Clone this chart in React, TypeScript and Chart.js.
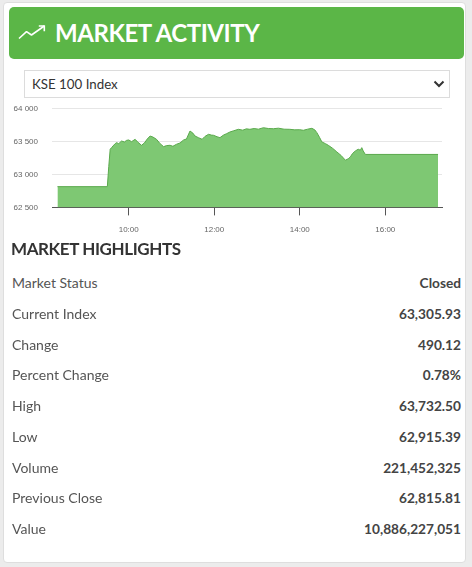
import React, { useEffect, useRef } from "react";
import Chart from "chart.js/auto";

// ---- data ----
const TIMES = [
  "08:20", "09:30", "09:32", "09:34", "09:36", "09:38", "09:41", "09:43", "09:46", "09:50",
  "09:54", "09:57", "10:00", "10:04", "10:09", "10:13", "10:18", "10:22", "10:26", "10:30",
  "10:34", "10:39", "10:44", "10:49", "10:53", "10:58", "11:02", "11:07", "11:12", "11:17",
  "11:21", "11:26", "11:30", "11:33", "11:38", "11:43", "11:47", "11:52", "11:56", "11:59",
  "12:04", "12:08", "12:13", "12:17", "12:22", "12:27", "12:34", "12:40", "12:45", "12:50",
  "12:56", "13:02", "13:09", "13:16", "13:23", "13:30", "13:38", "13:46", "13:53", "14:00",
  "14:05", "14:11", "14:17", "14:21", "14:24", "14:28", "14:31", "14:36", "14:40", "14:46",
  "14:52", "14:58", "15:04", "15:08", "15:11", "15:14", "15:18", "15:22", "15:25", "15:27",
  "15:29", "15:32", "17:14",
];
const VALUES = [
  62815.81, 62815.81, 63120, 63385, 63410, 63435, 63470, 63485, 63470, 63510,
  63495, 63520, 63526, 63500, 63536, 63490, 63445, 63480, 63540, 63586,
  63570, 63536, 63470, 63424, 63440, 63445, 63430, 63460, 63480, 63526,
  63540, 63662, 63630, 63586, 63560, 63536, 63580, 63612, 63600, 63597,
  63575, 63561, 63600, 63620, 63647, 63665, 63688, 63675, 63695, 63688,
  63700, 63690, 63712, 63700, 63697, 63705, 63690, 63688, 63680, 63682,
  63673, 63690, 63703, 63680, 63637, 63560, 63496, 63470, 63445, 63400,
  63344, 63290, 63218, 63240, 63268, 63320, 63359, 63385, 63370, 63409,
  63359, 63305.93, 63305.93,
];
const X_TICKS = [10, 12, 14, 16];
const Y_TICKS = [62500, 63000, 63500, 64000];

const HIGHLIGHT_LABELS = [
  "Market Status", "Current Index", "Change", "Percent Change", "High",
  "Low", "Volume", "Previous Close", "Value",
];
const HIGHLIGHT_VALUES = [
  "Closed", "63,305.93", "490.12", "0.78%", "63,732.50",
  "62,915.39", "221,452,325", "62,815.81", "10,886,227,051",
];

const toHours = (t: string) => {
  const [h, m] = t.split(":").map(Number);
  return h + m / 60;
};
const fmtY = (v: number) =>
  Math.round(v).toString().replace(/\B(?=(\d{3})+(?!\d))/g, " ");

function AreaChart() {
  const ref = useRef<HTMLCanvasElement | null>(null);
  useEffect(() => {
    if (!ref.current) return;
    const chart = new Chart(ref.current, {
      type: "line",
      data: {
        datasets: [
          {
            data: TIMES.map((t, i) => ({ x: toHours(t), y: VALUES[i] })),
            borderColor: "#5aa94c",
            borderWidth: 1,
            backgroundColor: "#7ec873",
            fill: "start",
            pointRadius: 0,
            tension: 0,
          },
        ],
      },
      options: {
        animation: false,
        responsive: false,
        maintainAspectRatio: false,
        layout: { padding: { top: 6, right: 30, bottom: 0, left: 0 } },
        plugins: { legend: { display: false }, tooltip: { enabled: false } },
        scales: {
          x: {
            type: "linear",
            min: 8.206,
            max: 17.326,
            afterBuildTicks: (s: any) => {
              s.ticks = X_TICKS.map((v) => ({ value: v }));
            },
            ticks: {
              callback: (v: any) => `${String(v).padStart(2, "0")}:00`,
              color: "#666",
              font: { family: "'Liberation Sans', Arial", size: 8 },
              padding: 10,
              maxRotation: 0,
            },
            grid: {
              drawOnChartArea: false,
              drawTicks: true,
              tickLength: 8,
              color: "#555",
            },
            border: { display: true, color: "#555", width: 1 },
          },
          y: {
            min: 62500,
            max: 64000,
            afterBuildTicks: (s: any) => {
              s.ticks = Y_TICKS.map((v) => ({ value: v }));
            },
            afterFit: (s: any) => {
              s.width = 52;
            },
            ticks: {
              callback: (v: any) => fmtY(Number(v)),
              color: "#666",
              font: { family: "'Liberation Sans', Arial", size: 8 },
              padding: 14,
            },
            grid: { color: "#e6e6e6", drawTicks: false },
            border: { display: false },
          },
        },
      },
    });
    return () => chart.destroy();
  }, []);
  return (
    <canvas
      ref={ref}
      width={472}
      height={155}
      style={{ position: "absolute", left: 0, top: 90, width: 472, height: 155 }}
    />
  );
}

const lato = "Lato, 'Open Sans', sans-serif";

export default function App() {
  return (
    <div
      style={{
        position: "fixed",
        left: 0,
        top: 0,
        width: 472,
        height: 567,
        background: "#ececec",
        overflow: "hidden",
        fontFamily: lato,
      }}
    >
      <div
        style={{
          position: "absolute",
          left: 3,
          top: 2,
          width: 463,
          height: 561,
          background: "#fff",
          border: "1px solid #dedede",
          borderRadius: 4,
          boxSizing: "border-box",
        }}
      />
      <div
        style={{
          position: "absolute",
          left: 9,
          top: 7,
          width: 455,
          height: 52,
          background: "#5bb647",
          borderRadius: 5,
        }}
      />
      <svg
        width={40}
        height={30}
        style={{ position: "absolute", left: 14, top: 20 }}
      >
        <polyline
          points="5,18.5 12.5,11.7 17.5,15 30.3,6"
          fill="none"
          stroke="#fff"
          strokeWidth={1.6}
          strokeLinejoin="round"
        />
        <polyline
          points="24.8,6 30.3,6 30.3,11.3"
          fill="none"
          stroke="#fff"
          strokeWidth={1.6}
        />
      </svg>
      <div
        style={{
          position: "absolute",
          left: 55,
          top: 15,
          height: 36,
          lineHeight: "36px",
          fontSize: 24,
          fontWeight: 700,
          color: "#fff",
          whiteSpace: "nowrap",
          letterSpacing: -0.45,
        }}
      >
        MARKET ACTIVITY
      </div>

      <div
        style={{
          position: "absolute",
          left: 24,
          top: 70,
          width: 426,
          height: 28,
          border: "1px solid #dcdcdc",
          boxSizing: "border-box",
          background: "#fff",
        }}
      />
      <div
        style={{
          position: "absolute",
          left: 32,
          top: 74,
          height: 20,
          lineHeight: "20px",
          fontSize: 13.3,
          color: "#333",
          whiteSpace: "nowrap",
        }}
      >
        KSE 100 Index
      </div>
      <svg width={12} height={8} style={{ position: "absolute", left: 433, top: 80 }}>
        <polyline
          points="1.5,1.5 6,6 10.5,1.5"
          fill="none"
          stroke="#333"
          strokeWidth={2}
        />
      </svg>

      <AreaChart />

      <div
        style={{
          position: "absolute",
          left: 11,
          top: 237,
          height: 24,
          lineHeight: "24px",
          fontSize: 17,
          fontWeight: 700,
          color: "#333",
          whiteSpace: "nowrap",
          letterSpacing: -0.4,
        }}
      >
        MARKET HIGHLIGHTS
      </div>

      {HIGHLIGHT_LABELS.map((label, i) => {
        const cy = 283.3 + i * 30.7;
        return (
          <React.Fragment key={label}>
            <div
              style={{
                position: "absolute",
                left: 12,
                top: cy - 10,
                height: 20,
                lineHeight: "20px",
                fontSize: 14,
                color: "#555",
                whiteSpace: "nowrap",
              }}
            >
              {label}
            </div>
            <div
              style={{
                position: "absolute",
                right: 472 - 461,
                top: cy - 10,
                height: 20,
                lineHeight: "20px",
                fontSize: 13.7,
                fontWeight: 700,
                color: "#444",
                whiteSpace: "nowrap",
                textAlign: "right",
              }}
            >
              {HIGHLIGHT_VALUES[i]}
            </div>
          </React.Fragment>
        );
      })}
    </div>
  );
}
